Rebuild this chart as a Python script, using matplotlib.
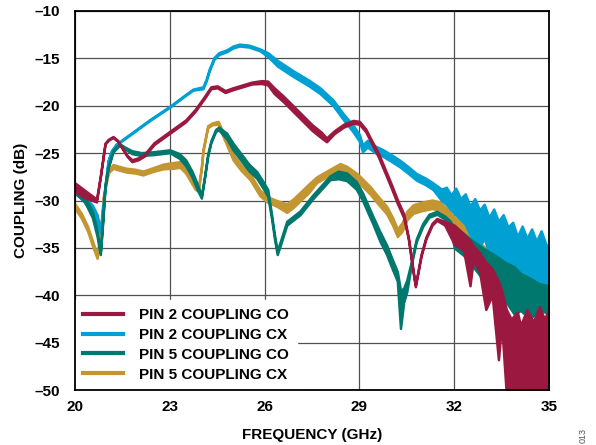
import matplotlib
matplotlib.use("Agg")
import matplotlib.pyplot as plt
from matplotlib.lines import Line2D
import numpy as np

plt.rcParams['font.family'] = ['Liberation Sans', 'DejaVu Sans']

# ---- measured coupling traces: frequency (GHz), trace level (dB), noise band width (dB, pk-pk)
f_p2_co = [20.0, 20.3, 20.68, 20.8, 20.95, 21.05, 21.2, 21.35, 21.5, 21.65, 21.8, 22.0, 22.2, 22.5,
           23.0, 23.5, 23.8, 24.1, 24.3, 24.5, 24.75, 25.0, 25.3, 25.6, 25.9, 26.1, 26.3, 26.6, 26.9,
           27.2, 27.5, 27.8, 27.96, 28.2, 28.5, 28.8, 29.0, 29.2, 29.4, 29.6, 29.8, 30.0, 30.2, 30.4,
           30.55, 30.7, 30.77, 30.85, 30.95, 31.1, 31.3, 31.45, 31.7, 32.0, 32.3, 32.5, 32.6, 32.8,
           33.0, 33.2, 33.4, 33.5, 33.65, 33.8, 34.0, 34.1, 34.3, 34.5, 34.7, 34.85, 35.0]
c_p2_co = [-28.6, -29.3, -30.0, -27.5, -24.0, -23.6, -23.3, -23.7, -24.5, -25.3, -25.8, -25.6, -25.2, -24.0,
           -22.8, -21.6, -20.5, -19.1, -18.1, -18.0, -18.5, -18.2, -17.9, -17.6, -17.5, -17.6, -18.4, -19.3, -20.3,
           -21.3, -22.3, -23.1, -23.6, -22.8, -22.1, -21.7, -21.8, -22.6, -23.9, -25.2, -26.8, -28.4, -30.1, -31.6,
           -34.0, -37.5, -39.0, -37.6, -35.8, -34.0, -32.5, -32.0, -32.4, -33.6, -34.4, -36.6, -35.55, -36.5,
           -39.0, -38.6, -42.65, -41.25, -46.0, -46.5, -46.15, -46.85, -46.0, -46.65, -45.85, -46.5, -46.0]
s_p2_co = [0.9, 0.8, 0.3, 0.1, 0.1, 0.1, 0.1, 0.1, 0.1, 0.1, 0.2, 0.2, 0.2, 0.2,
           0.2, 0.2, 0.2, 0.2, 0.2, 0.2, 0.2, 0.2, 0.2, 0.2, 0.3, 0.4, 0.6, 0.6, 0.6,
           0.6, 0.6, 0.6, 0.4, 0.3, 0.3, 0.3, 0.3, 0.3, 0.3, 0.4, 0.4, 0.4, 0.4, 0.4,
           0.2, 0.2, 0.2, 0.2, 0.2, 0.2, 0.2, 0.2, 0.4, 2.0, 1.8, 4.8, 1.5, 2.0,
           5.0, 2.8, 8.3, 3.5, 9.0, 8.0, 8.7, 7.3, 9.0, 7.7, 9.3, 8.0, 9.0]

f_p2_cx = [20.0, 20.3, 20.55, 20.7, 20.8, 20.88, 20.95, 21.05, 21.15, 21.3, 21.63, 22.0, 22.37, 23.0,
           23.4, 23.73, 24.05, 24.15, 24.25, 24.4, 24.55, 24.8, 25.0, 25.2, 25.5, 25.85, 26.1, 26.4,
           26.9, 27.4, 27.75, 28.17, 28.5, 28.8, 29.0, 29.1, 29.25, 29.5, 29.75, 30.0, 30.28, 30.55,
           30.8, 31.1, 31.33, 31.6, 31.75, 31.9, 32.05, 32.2, 32.35, 32.5, 32.65, 32.8, 32.95, 33.1,
           33.25, 33.4, 33.55, 33.7, 33.85, 34.0, 34.15, 34.3, 34.45, 34.6, 34.75, 34.9, 35.0]
c_p2_cx = [-28.65, -29.9, -30.85, -32.0, -33.3, -31.0, -28.5, -25.8, -24.8, -24.1, -23.3, -22.4, -21.5, -20.1,
           -19.1, -18.3, -18.1, -17.3, -16.2, -15.0, -14.5, -14.2, -13.8, -13.6, -13.7, -14.1, -14.6, -15.5,
           -16.6, -17.6, -18.4, -19.7, -21.2, -22.4, -23.4, -24.5, -24.0, -24.6, -25.0, -25.5, -26.1, -26.8,
           -27.5, -28.0, -28.5, -29.4, -29.5, -30.2, -30.1, -30.9, -30.9, -32.1, -32.0, -32.95, -32.2, -33.65,
           -33.35, -34.35, -33.75, -34.9, -35.15, -36.3, -36.1, -36.1, -36.5, -36.65, -35.9, -36.7, -36.75]
s_p2_cx = [0.7, 0.6, 0.7, 1.0, 0.2, 0.1, 0.1, 0.1, 0.1, 0.1, 0.1, 0.1, 0.1, 0.1,
           0.1, 0.1, 0.2, 0.2, 0.2, 0.2, 0.2, 0.2, 0.2, 0.2, 0.2, 0.2, 0.4, 0.6,
           0.6, 0.6, 0.6, 0.6, 0.6, 0.7, 0.7, 0.7, 0.7, 0.7, 0.7, 0.7, 0.7, 0.7,
           0.7, 0.7, 0.7, 1.2, 1.8, 1.6, 2.8, 2.2, 3.2, 3.0, 4.4, 3.9, 3.6, 3.7,
           4.9, 4.3, 4.5, 4.2, 5.7, 5.0, 6.8, 4.2, 7.0, 4.7, 5.4, 4.2, 3.5]

f_p5_co = [20.0, 20.3, 20.55, 20.7, 20.8, 20.88, 20.95, 21.05, 21.2, 21.4, 21.6, 21.8, 22.1, 22.5,
           23.0, 23.3, 23.5, 23.7, 23.85, 24.0, 24.1, 24.2, 24.3, 24.45, 24.55, 24.8, 25.0, 25.25,
           25.5, 25.75, 25.96, 26.1, 26.22, 26.32, 26.4, 26.5, 26.7, 27.12, 27.53, 28.07, 28.33, 28.6,
           28.9, 29.1, 29.43, 29.65, 29.86, 30.05, 30.2, 30.3, 30.4, 30.5, 30.65, 30.8, 31.0, 31.2,
           31.45, 31.7, 31.87, 32.0, 32.3, 32.6, 33.0, 33.3, 33.6, 33.9, 34.1, 34.4, 34.7, 35.0]
c_p5_co = [-28.95, -29.8, -31.5, -33.5, -35.6, -32.0, -28.5, -26.5, -24.8, -24.1, -24.5, -24.9, -25.1, -25.0,
           -24.8, -25.3, -26.0, -27.2, -28.4, -29.6, -27.5, -25.2, -23.8, -22.6, -22.4, -23.2, -24.3, -25.4,
           -26.5, -27.3, -28.4, -29.2, -31.7, -34.0, -35.5, -34.5, -32.4, -31.3, -29.6, -27.6, -27.3, -27.5,
           -28.4, -29.6, -32.1, -33.8, -35.2, -36.8, -38.0, -41.5, -40.0, -39.0, -36.5, -34.2, -32.6, -31.6,
           -31.3, -31.8, -32.3, -34.0, -34.65, -35.65, -36.95, -37.65, -38.5, -39.5, -39.65, -40.35, -40.15, -40.5]
s_p5_co = [0.6, 0.6, 0.6, 0.6, 0.2, 0.2, 0.2, 0.2, 0.2, 0.2, 0.2, 0.3, 0.3, 0.3,
           0.3, 0.5, 0.6, 0.6, 0.6, 0.3, 0.2, 0.2, 0.2, 0.2, 0.3, 0.6, 0.7, 0.7,
           0.7, 0.7, 0.7, 0.7, 0.4, 0.4, 0.4, 0.4, 0.4, 0.4, 0.4, 0.4, 0.8, 0.8,
           0.8, 0.8, 0.8, 1.0, 1.0, 1.0, 1.0, 4.0, 1.5, 1.2, 0.3, 0.3, 0.3, 0.3,
           0.3, 0.3, 0.3, 2.0, 2.3, 2.7, 3.5, 3.7, 4.0, 5.0, 3.9, 4.3, 2.7, 3.0]

f_p5_cx = [20.0, 20.2, 20.4, 20.55, 20.7, 20.8, 20.9, 21.05, 21.2, 21.4, 21.63, 21.9, 22.15, 22.5,
           22.8, 23.1, 23.32, 23.5, 23.64, 23.8, 23.9, 24.0, 24.05, 24.2, 24.35, 24.53, 24.75, 25.0,
           25.25, 25.54, 25.85, 26.1, 26.38, 26.7, 26.9, 27.12, 27.4, 27.65, 28.07, 28.39, 28.6, 28.9,
           29.0, 29.33, 29.6, 29.86, 30.05, 30.2, 30.35, 30.5, 30.7, 31.0, 31.3, 31.55, 31.8, 31.97,
           32.2, 32.6, 33.0, 33.3, 33.66, 34.0, 34.5, 35.0]
c_p5_cx = [-30.6, -31.6, -33.0, -34.5, -35.9, -33.5, -29.6, -27.0, -26.4, -26.6, -26.8, -26.9, -27.1, -26.7,
           -26.4, -26.3, -26.2, -26.8, -27.6, -28.6, -28.9, -26.5, -24.7, -22.2, -21.9, -21.8, -23.5, -25.4,
           -26.5, -27.5, -29.2, -29.9, -30.3, -30.8, -30.3, -29.6, -28.7, -27.8, -27.0, -26.5, -26.8, -27.5,
           -27.8, -28.9, -30.0, -31.0, -32.2, -33.4, -32.8, -31.6, -30.9, -30.6, -30.4, -30.6, -31.4, -32.1,
           -33.0, -34.7, -35.9, -36.8, -37.2, -37.8, -38.75, -39.0]
s_p5_cx = [0.5, 0.5, 0.5, 0.5, 0.4, 0.3, 0.2, 0.2, 0.4, 0.4, 0.4, 0.4, 0.4, 0.4,
           0.5, 0.6, 0.6, 0.6, 0.6, 0.4, 0.3, 0.2, 0.2, 0.2, 0.2, 0.3, 0.5, 0.6,
           0.6, 0.6, 0.6, 0.6, 0.6, 0.9, 0.9, 0.9, 0.9, 0.6, 0.6, 0.8, 0.8, 0.8,
           0.8, 0.8, 0.8, 0.8, 0.8, 0.8, 0.9, 0.9, 0.9, 0.9, 0.9, 0.9, 0.9, 0.9,
           1.6, 1.6, 1.8, 2.0, 2.4, 2.0, 2.1, 2.0]

labels = ["PIN 2 COUPLING CO", "PIN 2 COUPLING CX", "PIN 5 COUPLING CO", "PIN 5 COUPLING CX"]
colors = ["#9b1941", "#00a0d2", "#00786e", "#c39632"]

x_ticks = [20, 23, 26, 29, 32, 35]
y_ticks = [-50, -45, -40, -35, -30, -25, -20, -15, -10]

series = [
    (f_p2_co, c_p2_co, s_p2_co),
    (f_p2_cx, c_p2_cx, s_p2_cx),
    (f_p5_co, c_p5_co, s_p5_co),
    (f_p5_cx, c_p5_cx, s_p5_cx),
]

fig = plt.figure(figsize=(5.96, 4.45), dpi=100)
ax = fig.add_axes([75 / 596, 1 - 390 / 445, 474 / 596, 379 / 445])

# drawing order: PIN 5 CX at the back, PIN 2 CO on top
draw_order = [3, 1, 2, 0]
for z, i in enumerate(draw_order):
    f, c, s = (np.asarray(a, dtype=float) for a in series[i])
    lo = c - s / 2
    hi = c + s / 2
    ax.fill_between(f, lo, hi, facecolor=colors[i], edgecolor=colors[i],
                    linewidth=1.8, joinstyle='round', zorder=3 + z)

ax.set_xlim(20, 35)
ax.set_ylim(-50, -10)
ax.set_xticks(x_ticks)
ax.set_yticks(y_ticks)
ax.set_xticklabels([str(t) for t in x_ticks])
ax.set_yticklabels([("\u2013" + str(-t)) for t in y_ticks])

ax.grid(True, color="#505050", linewidth=0.9, zorder=1)
ax.set_axisbelow(True)
ax.tick_params(length=0, labelsize=11)
ax.tick_params(axis='x', pad=7.5)
ax.tick_params(axis='y', pad=10.5)
for lab in ax.get_xticklabels() + ax.get_yticklabels():
    lab.set_fontweight('bold')
for sp in ax.spines.values():
    sp.set_linewidth(1.3)
    sp.set_color("black")
    sp.set_zorder(20)

ax.set_xlabel("FREQUENCY (GHz)", fontsize=11, fontweight='bold', labelpad=10)
ax.set_ylabel("COUPLING (dB)", fontsize=11, fontweight='bold', labelpad=5)

handles = [Line2D([0], [0], color=colors[i], lw=3) for i in range(4)]
leg = ax.legend(handles, labels, loc='lower left', bbox_to_anchor=(0, 0),
                borderaxespad=0, frameon=True, fancybox=False, framealpha=1,
                edgecolor='white', facecolor='white', handlelength=2.6,
                handletextpad=1.05, labelspacing=0.38, borderpad=0.55,
                prop={'size': 11, 'weight': 'bold'})
leg.set_zorder(15)

fig.text(0.978, 0.022, "013", rotation=90, fontsize=6.5, color="#555555",
         ha='center', va='center')

fig.savefig("out.png", dpi=100)
